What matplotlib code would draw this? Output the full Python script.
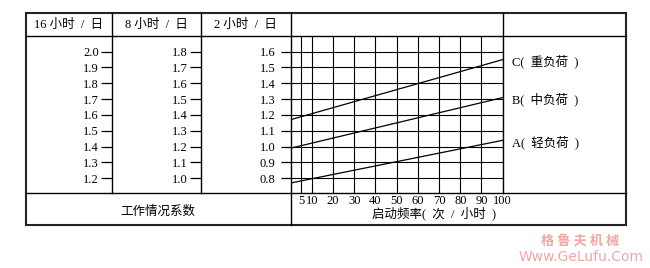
import matplotlib
matplotlib.use("Agg")
import matplotlib.pyplot as plt
from matplotlib.lines import Line2D

plt.rcParams['font.family'] = ['Liberation Serif', 'Noto Sans CJK SC']

# 工作情况系数 三列刻度
col_16h = [2.0, 1.9, 1.8, 1.7, 1.6, 1.5, 1.4, 1.3, 1.2]
col_8h = [1.8, 1.7, 1.6, 1.5, 1.4, 1.3, 1.2, 1.1, 1.0]
col_2h = [1.6, 1.5, 1.4, 1.3, 1.2, 1.1, 1.0, 0.9, 0.8]
headers = ["16 小时  /  日", "8 小时  /  日", "2 小时  /  日"]

# 启动频率
freq_ticks = [5, 10, 20, 30, 40, 50, 60, 70, 80, 90, 100]
freq = [0, 100]
load_c = [1.17, 1.55]
load_b = [0.99, 1.31]
load_a = [0.77, 1.04]
load_names = ["C(  重负荷  )", "B(  中负荷  )", "A(  轻负荷  )"]

W, H = 650, 268
fig = plt.figure(figsize=(W / 100, H / 100), dpi=100)


def fx(p):
    return p / W


def fy(p):
    return 1 - p / H


def hline(y, x0, x1, lw=1.0, c='k'):
    fig.add_artist(Line2D([fx(x0), fx(x1)], [fy(y), fy(y)], color=c, lw=lw,
                          transform=fig.transFigure))


def vline(x, y0, y1, lw=1.0, c='k'):
    fig.add_artist(Line2D([fx(x), fx(x)], [fy(y0), fy(y1)], color=c, lw=lw,
                          transform=fig.transFigure))


L, R, T, B = 26, 626, 13, 225
head_b, body_b = 36, 193
cols = [26, 112, 201, 290.5, 502.7]

# 表格
ax = fig.add_axes([fx(cols[3]), fy(body_b), fx(cols[4]) - fx(cols[3]),
                   fy(head_b) - fy(body_b)])
ax.set_xlim(0, 100)
ax.set_ylim(0.707, 1.699)
for s in ax.spines.values():
    s.set_visible(False)

ax.set_xticks(freq_ticks)
ax.set_xticklabels([str(v) for v in freq_ticks], fontsize=9)
ax.tick_params(axis='x', length=0, pad=1.5)
ax.set_yticks(col_2h)
ax.set_yticklabels(["%.1f" % v for v in col_2h], fontsize=9)
ax.tick_params(axis='y', direction='out', length=7.2, width=0.9, pad=3.5)
ax.grid(True, color='k', lw=0.8)

for ys, name in zip([load_c, load_b, load_a], load_names):
    ax.plot(freq, ys, color='k', lw=0.9)
    ax.annotate(name, xy=(freq[-1], ys[-1]), xytext=(7, -1.5),
                textcoords='offset points', ha='left', va='center', fontsize=9,
                annotation_clip=False)

ax.text(0.676, -(213 - body_b) / (body_b - head_b), "启动频率(  次  /  小时  )",
        transform=ax.transAxes, ha='center', va='center', fontsize=9)

# 左侧两列刻度
for col, xpix in [(col_16h, cols[1]), (col_8h, cols[2])]:
    off = col[0] - col_2h[0]
    loc = (xpix - cols[3]) / (cols[4] - cols[3])
    sec = ax.secondary_yaxis(loc, functions=(lambda y, o=off: y + o,
                                             lambda y, o=off: y - o))
    sec.set_yticks(col)
    sec.set_yticklabels(["%.1f" % v for v in col], fontsize=9)
    sec.tick_params(axis='y', direction='out', length=8, width=0.9, pad=1.5)
    for s in sec.spines.values():
        s.set_visible(False)

# 表格框线
hline(head_b, L, R)
hline(body_b, L, R)
for x in cols[1:3]:
    vline(x, T, body_b)
vline(cols[3], T, B)
vline(cols[4], T, body_b)
fig.add_artist(plt.Rectangle((fx(L), fy(B)), fx(R) - fx(L), fy(T) - fy(B),
                             fill=False, ec='#222222', lw=1.5,
                             transform=fig.transFigure))

for i, h in enumerate(headers):
    fig.text(fx((cols[i] + cols[i + 1]) / 2), fy(24.5), h, ha='center',
             va='center', fontsize=9)
fig.text(fx(158), fy(212), "工作情况系数", ha='center', va='center', fontsize=9)

# 水印
fig.text(fx(580), fy(242), "格 鲁 夫 机 械", ha='center', va='center',
         fontsize=9.5, fontweight='bold', color='#f4a6a6',
         family='Noto Sans CJK SC')
fig.text(fx(581.5), fy(257), "Www.GeLufu.Com", ha='center', va='center',
         fontsize=10, color='#f4a6a6', family='DejaVu Sans')

fig.savefig("out.png", dpi=100)
